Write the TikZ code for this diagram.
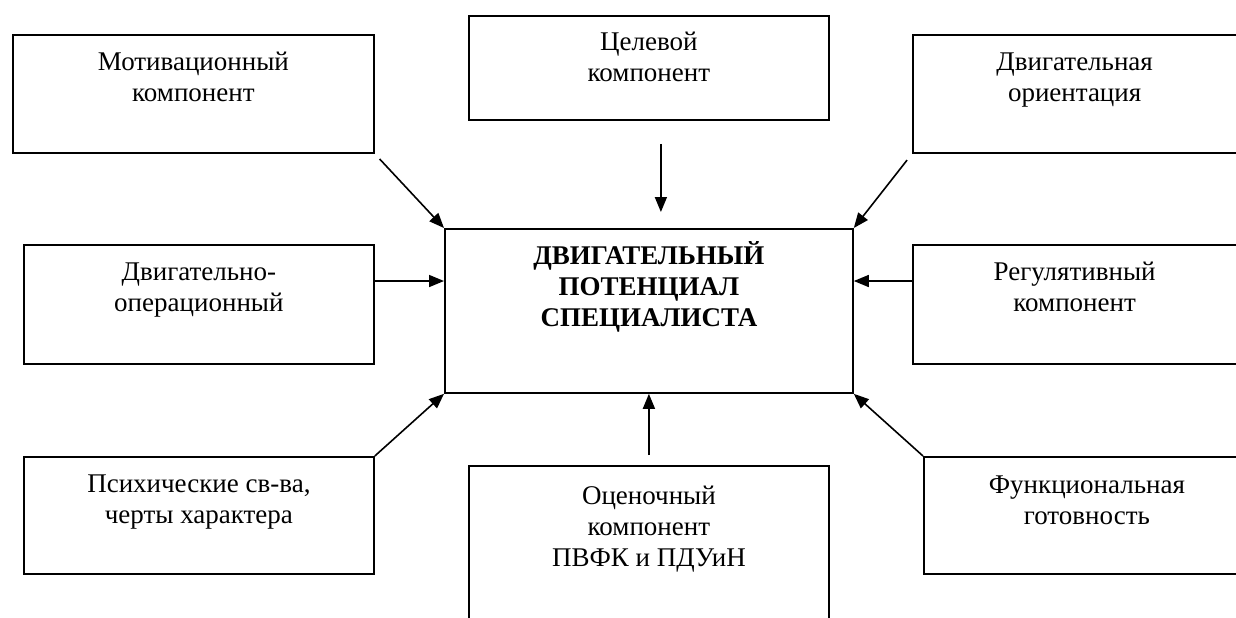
\documentclass[tikz,border=0pt]{standalone}
\usepackage{fontspec}
\setmainfont{Liberation Serif}
\usetikzlibrary{arrows.meta,calc}

\tikzset{
  box/.style={draw, line width=0.9pt, anchor=north west, inner sep=0pt},
  txt/.style={anchor=base, align=center, inner sep=0pt, font=\fontsize{13.5}{15.5}\selectfont},
  arr/.style={-{Triangle[length=7.5pt,width=6pt]}, line width=0.8pt},
}

\begin{document}
\begin{tikzpicture}[x=0.5pt, y=-0.5pt]
    \path[use as bounding box, clip] (0,0) rectangle (1236,617);

    % boxes, top row
    \node[box, minimum width=180.5pt, minimum height=59pt] (mot) at (12,34) {};
    \node[box, minimum width=180pt, minimum height=52pt] (cel) at (468,15) {};
    \node[box, minimum width=161.75pt, minimum height=59pt] (orient) at (912,34) {};

    % middle row
    \node[box, minimum width=175pt, minimum height=59.5pt] (oper) at (23,244) {};
    \node[box, minimum width=204pt, minimum height=82pt] (center) at (444,228) {};
    \node[box, minimum width=161.75pt, minimum height=59.5pt] (reg) at (912,244) {};

    % bottom row (cut by the page edge)
    \node[box, minimum width=175pt, minimum height=58.5pt] (psy) at (23,456) {};
    \node[box, minimum width=180pt, minimum height=90pt] (ocen) at (468,465) {};
    \node[box, minimum width=163pt, minimum height=58.5pt] (func) at (923,456) {};

    % texts (base = baseline of the last line)
    \node[txt] (motT) at ($(mot.north)+(0,67)$) {Мотивационный\\компонент};
    \node[txt] (celT) at ($(cel.north)+(0,66)$) {Целевой\\компонент};
    \node[txt] (orientT) at ($(orient.north)+(0,67)$) {Двигательная\\ориентация};
    \node[txt] (operT) at ($(oper.north)+(0,67)$) {Двигательно-\\операционный};
    \node[txt, font=\fontsize{13.5}{15.5}\selectfont\bfseries] (centerT) at ($(center.north)+(0,98)$)
        {ДВИГАТЕЛЬНЫЙ\\ПОТЕНЦИАЛ\\СПЕЦИАЛИСТА};
    \node[txt] (regT) at ($(reg.north)+(0,67)$) {Регулятивный\\компонент};
    \node[txt] (psyT) at ($(psy.north)+(0,67)$) {Психические св-ва,\\черты характера};
    \node[txt] (ocenT) at ($(ocen.north)+(0,101)$) {Оценочный\\компонент\\ПВФК и ПДУиН};
    \node[txt] (funcT) at ($(func.north)+(0,68)$) {Функциональная\\готовность};

    % arrows into the centre
    \draw[arr, shorten <=3.5pt] (mot.south east) -- (center.north west);
    \draw[arr, shorten <=11.5pt, shorten >=8pt] ($(cel.south)+(12,0)$) -- ($(center.north)+(12,0)$);
    \draw[arr, shorten <=4pt] (orient.south west) -- (center.north east);
    \draw[arr] ($(oper.north east)+(0,37)$) coordinate (opin) -- (opin -| center.west);
    \draw[arr] ($(reg.north west)+(0,37)$) coordinate (regin) -- (regin -| center.east);
    \draw[arr] (psy.north east) -- (center.south west);
    \draw[arr, shorten <=5pt] (ocen.north) -- (center.south);
    \draw[arr] (func.north west) -- (center.south east);
\end{tikzpicture}
\end{document}
